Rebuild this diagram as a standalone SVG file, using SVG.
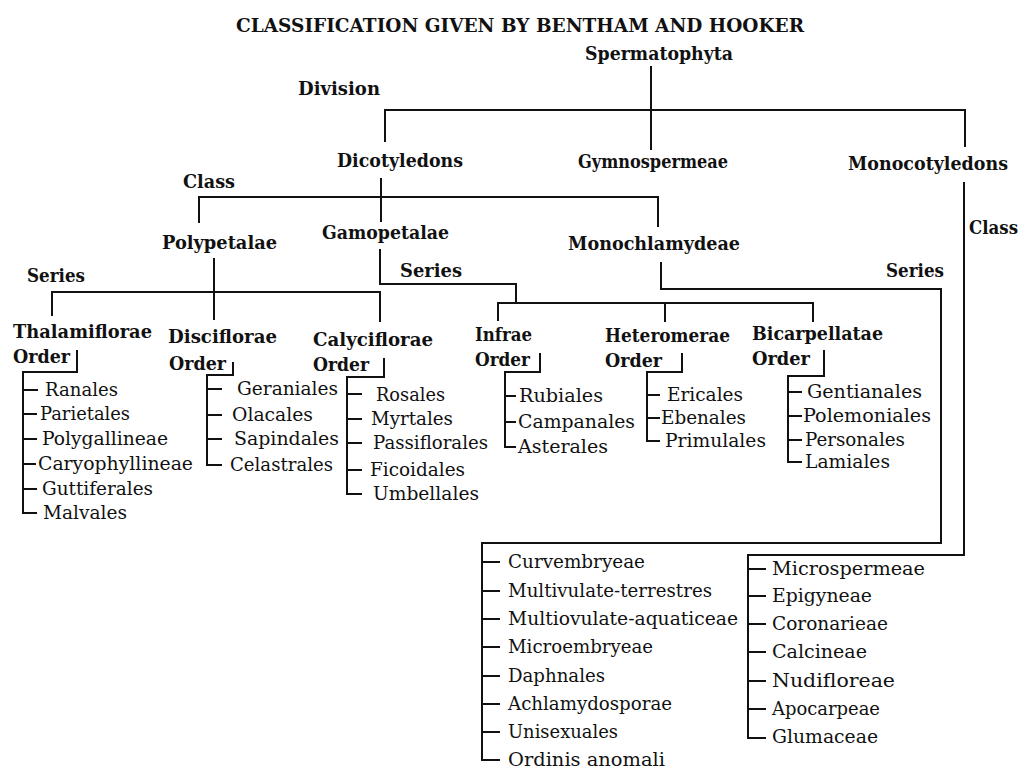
<svg xmlns="http://www.w3.org/2000/svg" width="1024" height="771" viewBox="0 0 1024 771">
<style>
text{font-family:"DejaVu Serif","Liberation Serif",serif;fill:#111}
.t{font-size:19px;font-weight:bold}
.b{font-size:19px;font-weight:bold}
.r{font-size:19px}
.ln{fill:none;stroke:#111;stroke-width:2}
</style>
<rect width="1024" height="771" fill="#fff"/>
<text class="t" x="236" y="32" textLength="568" lengthAdjust="spacingAndGlyphs">CLASSIFICATION GIVEN BY BENTHAM AND HOOKER</text>
<g id="connectors" class="ln">
<path d="M651,66V150"/>
<path d="M385,142V110H965V147"/>
<path d="M381,178V222"/>
<path d="M199,223V197H658V227"/>
<path d="M214,258V320"/>
<path d="M52,316V292H380V322"/>
<path d="M380,249V284H516V303"/>
<path d="M498,321V303H813V322M665,303V322"/>
<path d="M661,262V289H941V543H482V760H500"/>
<path d="M482,562H500M482,591H500M482,619H500M482,647H500M482,676H500M482,704H500M482,732H500"/>
<path d="M964,182V555H748V738H766"/>
<path d="M748,569H766M748,596H766M748,624H766M748,652H766M748,681H766M748,709H766"/>
<path d="M77,350V372H23V513H37M23,390H38M23,414H37M23,439H37M23,464H36M23,489H37"/>
<path d="M233,362V375H207V465H222M207,389H222M207,415H222M207,439H222"/>
<path d="M384,358V377H347V494H362M347,394H362M347,419H362M347,443H362M347,470H362"/>
<path d="M540,353V372H505V447H516M505,396H516M505,422H516"/>
<path d="M682,353V372H647V441H660M647,395H660M647,418H660"/>
<path d="M824,350V376H788V462H802M788,392H802M788,416H802M788,440H802"/>
</g>
<g id="spermatophyta"><text class="b" x="585" y="60" textLength="148" lengthAdjust="spacingAndGlyphs">Spermatophyta</text></g>
<g id="division-label"><text class="b" x="298" y="95" textLength="82" lengthAdjust="spacingAndGlyphs">Division</text></g>
<g id="dicotyledons"><text class="b" x="337" y="167" textLength="126" lengthAdjust="spacingAndGlyphs">Dicotyledons</text></g>
<g id="gymnospermeae"><text class="b" x="578" y="168" textLength="150" lengthAdjust="spacingAndGlyphs">Gymnospermeae</text></g>
<g id="monocotyledons"><text class="b" x="848" y="170" textLength="160" lengthAdjust="spacingAndGlyphs">Monocotyledons</text></g>
<g id="class-label-1"><text class="b" x="183" y="188" textLength="52" lengthAdjust="spacingAndGlyphs">Class</text></g>
<g id="class-label-2"><text class="b" x="969" y="234" textLength="49" lengthAdjust="spacingAndGlyphs">Class</text></g>
<g id="polypetalae"><text class="b" x="162" y="249" textLength="115" lengthAdjust="spacingAndGlyphs">Polypetalae</text></g>
<g id="gamopetalae"><text class="b" x="322" y="239" textLength="127" lengthAdjust="spacingAndGlyphs">Gamopetalae</text></g>
<g id="monochlamydeae"><text class="b" x="568" y="250" textLength="172" lengthAdjust="spacingAndGlyphs">Monochlamydeae</text></g>
<g id="series-label-1"><text class="b" x="27" y="282" textLength="58" lengthAdjust="spacingAndGlyphs">Series</text></g>
<g id="series-label-2"><text class="b" x="400" y="277" textLength="62" lengthAdjust="spacingAndGlyphs">Series</text></g>
<g id="series-label-3"><text class="b" x="886" y="277" textLength="58" lengthAdjust="spacingAndGlyphs">Series</text></g>
<g id="thalamiflorae">
<text class="b" x="13" y="338" textLength="139" lengthAdjust="spacingAndGlyphs">Thalamiflorae</text>
<text class="b" x="13" y="363" textLength="57" lengthAdjust="spacingAndGlyphs">Order</text>
<text class="r" x="45" y="396" textLength="73" lengthAdjust="spacingAndGlyphs">Ranales</text>
<text class="r" x="40" y="420" textLength="90" lengthAdjust="spacingAndGlyphs">Parietales</text>
<text class="r" x="42" y="445" textLength="126" lengthAdjust="spacingAndGlyphs">Polygallineae</text>
<text class="r" x="38" y="470" textLength="155" lengthAdjust="spacingAndGlyphs">Caryophyllineae</text>
<text class="r" x="42" y="495" textLength="111" lengthAdjust="spacingAndGlyphs">Guttiferales</text>
<text class="r" x="43" y="519" textLength="84" lengthAdjust="spacingAndGlyphs">Malvales</text>
</g>
<g id="disciflorae">
<text class="b" x="168" y="343" textLength="109" lengthAdjust="spacingAndGlyphs">Disciflorae</text>
<text class="b" x="169" y="370" textLength="57" lengthAdjust="spacingAndGlyphs">Order</text>
<text class="r" x="237" y="395" textLength="101" lengthAdjust="spacingAndGlyphs">Geraniales</text>
<text class="r" x="232" y="421" textLength="81" lengthAdjust="spacingAndGlyphs">Olacales</text>
<text class="r" x="234" y="445" textLength="105" lengthAdjust="spacingAndGlyphs">Sapindales</text>
<text class="r" x="230" y="471" textLength="103" lengthAdjust="spacingAndGlyphs">Celastrales</text>
</g>
<g id="calyciflorae">
<text class="b" x="313" y="346" textLength="120" lengthAdjust="spacingAndGlyphs">Calyciflorae</text>
<text class="b" x="313" y="371" textLength="56" lengthAdjust="spacingAndGlyphs">Order</text>
<text class="r" x="376" y="401" textLength="69" lengthAdjust="spacingAndGlyphs">Rosales</text>
<text class="r" x="371" y="425" textLength="82" lengthAdjust="spacingAndGlyphs">Myrtales</text>
<text class="r" x="373" y="449" textLength="115" lengthAdjust="spacingAndGlyphs">Passiflorales</text>
<text class="r" x="370" y="476" textLength="95" lengthAdjust="spacingAndGlyphs">Ficoidales</text>
<text class="r" x="373" y="500" textLength="106" lengthAdjust="spacingAndGlyphs">Umbellales</text>
</g>
<g id="infrae">
<text class="b" x="475" y="341" textLength="57" lengthAdjust="spacingAndGlyphs">Infrae</text>
<text class="b" x="475" y="366" textLength="55" lengthAdjust="spacingAndGlyphs">Order</text>
<text class="r" x="519" y="402" textLength="84" lengthAdjust="spacingAndGlyphs">Rubiales</text>
<text class="r" x="518" y="428" textLength="117" lengthAdjust="spacingAndGlyphs">Campanales</text>
<text class="r" x="518" y="453" textLength="90" lengthAdjust="spacingAndGlyphs">Asterales</text>
</g>
<g id="heteromerae">
<text class="b" x="605" y="342" textLength="125" lengthAdjust="spacingAndGlyphs">Heteromerae</text>
<text class="b" x="605" y="367" textLength="57" lengthAdjust="spacingAndGlyphs">Order</text>
<text class="r" x="667" y="401" textLength="76" lengthAdjust="spacingAndGlyphs">Ericales</text>
<text class="r" x="661" y="424" textLength="85" lengthAdjust="spacingAndGlyphs">Ebenales</text>
<text class="r" x="665" y="447" textLength="101" lengthAdjust="spacingAndGlyphs">Primulales</text>
</g>
<g id="bicarpellatae">
<text class="b" x="752" y="340" textLength="131" lengthAdjust="spacingAndGlyphs">Bicarpellatae</text>
<text class="b" x="752" y="365" textLength="58" lengthAdjust="spacingAndGlyphs">Order</text>
<text class="r" x="807" y="398" textLength="115" lengthAdjust="spacingAndGlyphs">Gentianales</text>
<text class="r" x="803" y="422" textLength="128" lengthAdjust="spacingAndGlyphs">Polemoniales</text>
<text class="r" x="805" y="446" textLength="100" lengthAdjust="spacingAndGlyphs">Personales</text>
<text class="r" x="805" y="468" textLength="85" lengthAdjust="spacingAndGlyphs">Lamiales</text>
</g>
<g id="monochlamydeae-series">
<text class="r" x="508" y="568" textLength="137" lengthAdjust="spacingAndGlyphs">Curvembryeae</text>
<text class="r" x="508" y="597" textLength="204" lengthAdjust="spacingAndGlyphs">Multivulate-terrestres</text>
<text class="r" x="508" y="625" textLength="230" lengthAdjust="spacingAndGlyphs">Multiovulate-aquaticeae</text>
<text class="r" x="508" y="653" textLength="145" lengthAdjust="spacingAndGlyphs">Microembryeae</text>
<text class="r" x="508" y="682" textLength="97" lengthAdjust="spacingAndGlyphs">Daphnales</text>
<text class="r" x="508" y="710" textLength="164" lengthAdjust="spacingAndGlyphs">Achlamydosporae</text>
<text class="r" x="508" y="738" textLength="110" lengthAdjust="spacingAndGlyphs">Unisexuales</text>
<text class="r" x="508" y="766" textLength="157" lengthAdjust="spacingAndGlyphs">Ordinis anomali</text>
</g>
<g id="monocotyledons-series">
<text class="r" x="772" y="575" textLength="153" lengthAdjust="spacingAndGlyphs">Microspermeae</text>
<text class="r" x="772" y="602" textLength="100" lengthAdjust="spacingAndGlyphs">Epigyneae</text>
<text class="r" x="772" y="630" textLength="116" lengthAdjust="spacingAndGlyphs">Coronarieae</text>
<text class="r" x="772" y="658" textLength="95" lengthAdjust="spacingAndGlyphs">Calcineae</text>
<text class="r" x="772" y="687" textLength="123" lengthAdjust="spacingAndGlyphs">Nudifloreae</text>
<text class="r" x="772" y="715" textLength="108" lengthAdjust="spacingAndGlyphs">Apocarpeae</text>
<text class="r" x="772" y="743" textLength="106" lengthAdjust="spacingAndGlyphs">Glumaceae</text>
</g>
</svg>
